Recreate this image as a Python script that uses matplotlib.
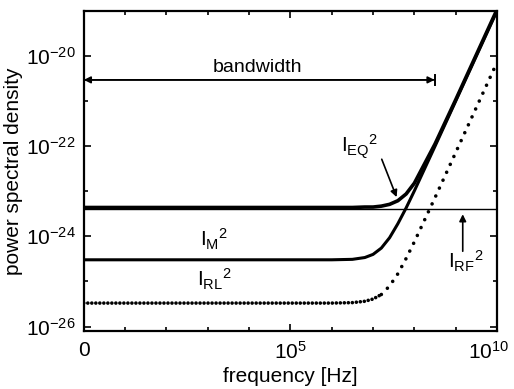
import matplotlib
matplotlib.use('Agg')
import matplotlib.pyplot as plt
import numpy as np
from matplotlib.ticker import FixedLocator, FixedFormatter, NullFormatter
from matplotlib.transforms import ScaledTranslation

plt.rcParams['font.family'] = ['Liberation Sans', 'DejaVu Sans']
plt.rcParams['mathtext.fontset'] = 'custom'
plt.rcParams['mathtext.rm'] = 'Liberation Sans'
plt.rcParams['mathtext.it'] = 'Liberation Sans:italic'
plt.rcParams['mathtext.default'] = 'regular'

# values, in decades (log10)
log_freq = [0, 5, 6, 6.5, 6.8, 7.0, 7.2, 7.4, 7.6, 7.8, 8.0, 8.5, 9.0, 9.5, 10]
log_eq = [-23.36, -23.36, -23.36, -23.36, -23.35, -23.35, -23.33, -23.29,
          -23.21, -23.06, -22.82, -21.95, -20.97, -19.97, -18.97]
log_m = [-24.52, -24.52, -24.52, -24.51, -24.47, -24.40, -24.26, -24.03,
         -23.72, -23.37, -22.99, -22.00, -21.00, -20.00, -19.00]
log_rl = [-25.48, -25.48, -25.48, -25.47, -25.44, -25.39, -25.29, -25.10,
          -24.83, -24.49, -24.12, -23.14, -22.14, -21.14, -20.14]
log_rf = [-23.39, -23.39]
rf_freq = [0, 10]
bandwidth_edge = 8.49

f = 10.0 ** np.array(log_freq)
eq = 10.0 ** np.array(log_eq)
m = 10.0 ** np.array(log_m)
rl = 10.0 ** np.array(log_rl)

fig = plt.figure(figsize=(5.14, 3.89), dpi=100)
ax = fig.add_axes([0.163, 0.149, 0.804, 0.823])

ax.plot(10.0 ** np.array(rf_freq), 10.0 ** np.array(log_rf), color='black', lw=1.0)
ax.plot(f, eq, color='black', lw=2.6, solid_capstyle='butt')
ax.plot(f, m, color='black', lw=2.2)

# dotted curve: dense dots on the flat part, sparser on the rise
k = 7
ax.plot(f[:k], rl[:k], color='black', lw=2.6, linestyle=(0, (0.01, 1.1)),
        dash_capstyle='round')
ax.plot(f[k - 1:], rl[k - 1:], color='black', lw=2.6, linestyle=(0, (0.01, 2.4)),
        dash_capstyle='round')

ax.set_xscale('log')
ax.set_yscale('log')
ax.set_xlim(1, 1e10)
ax.set_ylim(10 ** -26.1, 1e-19)

ax.xaxis.set_major_locator(FixedLocator([1, 1e5, 1e10]))
ax.xaxis.set_major_formatter(FixedFormatter(['0', '$10^5$', '$10^{10}$']))
ax.xaxis.set_minor_locator(FixedLocator([10.0 ** i for i in range(11)]))
ax.xaxis.set_minor_formatter(NullFormatter())
ax.yaxis.set_major_locator(FixedLocator([1e-26, 1e-24, 1e-22, 1e-20]))
ax.yaxis.set_major_formatter(FixedFormatter(['$10^{-26}$', '$10^{-24}$', '$10^{-22}$', '$10^{-20}$']))
ax.yaxis.set_minor_locator(FixedLocator([1e-25, 1e-23, 1e-21]))
ax.yaxis.set_minor_formatter(NullFormatter())

ax.tick_params(which='both', direction='in', top=True, right=True, width=1.2, labelsize=15)
ax.tick_params(which='major', length=5)
ax.tick_params(which='minor', length=3)
ax.tick_params(axis='x', pad=7)
ax.tick_params(axis='y', pad=6)
for s in ax.spines.values():
    s.set_linewidth(1.6)

ax.set_xlabel('frequency [Hz]', fontsize=15, labelpad=3)
ax.set_ylabel('power spectral density', fontsize=15, labelpad=2)

# keep the last x label inside the figure
fig.canvas.draw()
last = ax.get_xticklabels()[-1]
last.set_transform(last.get_transform() + ScaledTranslation(-0.08, 0, fig.dpi_scale_trans))

# bandwidth arrow
yb = 10 ** -20.53
ax.annotate('', xy=(1, yb), xytext=(10 ** bandwidth_edge, yb),
            arrowprops=dict(arrowstyle='-|>', color='black', lw=1.2,
                            shrinkA=0, shrinkB=0, mutation_scale=10))
ax.annotate('', xy=(10 ** bandwidth_edge, yb), xytext=(1, yb),
            arrowprops=dict(arrowstyle='-|>', color='black', lw=1.2,
                            shrinkA=0, shrinkB=0, mutation_scale=10))
ax.plot([10 ** bandwidth_edge] * 2, [10 ** -20.42, 10 ** -20.64], color='black', lw=1.4)
ax.text(10 ** 4.2, 10 ** -20.25, 'bandwidth', fontsize=14, ha='center', va='center')

# curve labels
ax.text(10 ** 6.67, 10 ** -22.02, '$I_{EQ}{}^{2}$', fontsize=15, ha='center', va='center')
ax.annotate('', xy=(10 ** 7.57, 10 ** -23.13), xytext=(10 ** 7.21, 10 ** -22.29),
            arrowprops=dict(arrowstyle='-|>', color='black', lw=1.2,
                            shrinkA=0, shrinkB=0, mutation_scale=10))
ax.text(10 ** 3.16, 10 ** -24.07, '$I_{M}{}^{2}$', fontsize=15, ha='center', va='center')
ax.text(10 ** 3.16, 10 ** -24.96, '$I_{RL}{}^{2}$', fontsize=15, ha='center', va='center')
ax.text(10 ** 9.25, 10 ** -24.56, '$I_{RF}{}^{2}$', fontsize=15, ha='center', va='center')
ax.annotate('', xy=(10 ** 9.17, 10 ** -23.51), xytext=(10 ** 9.17, 10 ** -24.33),
            arrowprops=dict(arrowstyle='-|>', color='black', lw=1.2,
                            shrinkA=0, shrinkB=0, mutation_scale=10))

fig.savefig('out.png', dpi=100)
